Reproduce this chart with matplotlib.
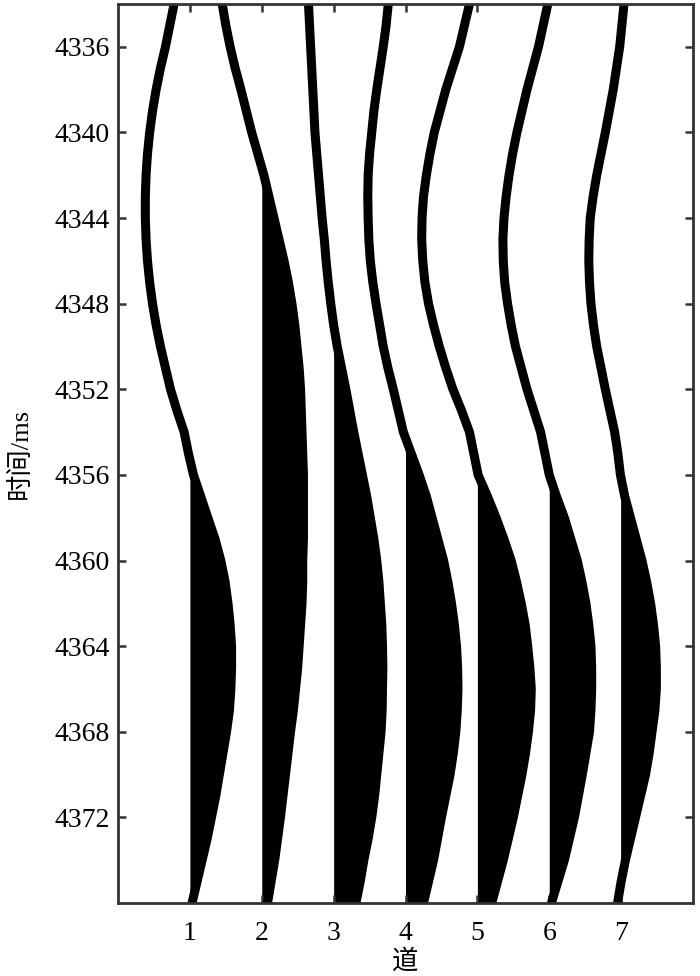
import numpy as np
import matplotlib.pyplot as plt

# 时间采样 (ms)
t = list(range(4334, 4377))

# 各道振幅 (相对道间距), 1 ms 一个样点
tr1 = [-0.22, -0.28, -0.34, -0.41, -0.47, -0.52, -0.56, -0.59, -0.61, -0.62, -0.62,
       -0.61, -0.59, -0.56, -0.52, -0.47, -0.41, -0.34, -0.27, -0.18, -0.08,
       -0.02, 0.05, 0.15, 0.25, 0.35, 0.43, 0.49, 0.53, 0.56, 0.58,
       0.58, 0.57, 0.55, 0.51, 0.46, 0.41, 0.36, 0.30, 0.24, 0.17, 0.10, 0.03]
tr2 = [-0.55, -0.50, -0.44, -0.37, -0.29, -0.215, -0.14, -0.055, 0.03, 0.10, 0.17,
       0.24, 0.31, 0.37, 0.42, 0.46, 0.49, 0.52, 0.54, 0.55, 0.56,
       0.57, 0.58, 0.58, 0.58, 0.58, 0.57, 0.57, 0.56, 0.54, 0.52,
       0.50, 0.47, 0.44, 0.40, 0.365, 0.33, 0.295, 0.26, 0.22, 0.18, 0.13, 0.08]
tr3 = [-0.35, -0.335, -0.32, -0.305, -0.29, -0.275, -0.26, -0.235, -0.21, -0.185, -0.16,
       -0.13, -0.105, -0.075, -0.04, 0.0, 0.05, 0.11, 0.17, 0.225, 0.28,
       0.34, 0.40, 0.46, 0.51, 0.56, 0.60, 0.63, 0.65, 0.67, 0.68,
       0.685, 0.68, 0.675, 0.66, 0.63, 0.60, 0.57, 0.53, 0.48, 0.42, 0.37, 0.31]
tr4 = [-0.24, -0.27, -0.31, -0.355, -0.40, -0.44, -0.47, -0.50, -0.52, -0.525, -0.52,
       -0.51, -0.49, -0.455, -0.41, -0.36, -0.31, -0.245, -0.17, -0.10, -0.03,
       0.08, 0.19, 0.29, 0.37, 0.45, 0.53, 0.59, 0.64, 0.68, 0.71,
       0.725, 0.73, 0.72, 0.70, 0.665, 0.62, 0.56, 0.50, 0.445, 0.39, 0.32, 0.25]
tr5 = [-0.11, -0.18, -0.25, -0.345, -0.44, -0.52, -0.60, -0.66, -0.71, -0.75, -0.77,
       -0.775, -0.76, -0.73, -0.68, -0.61, -0.53, -0.44, -0.34, -0.22, -0.11,
       -0.05, 0.01, 0.14, 0.26, 0.37, 0.47, 0.545, 0.61, 0.665, 0.70,
       0.73, 0.75, 0.74, 0.71, 0.67, 0.62, 0.56, 0.50, 0.43, 0.36, 0.28, 0.20]
tr6 = [-0.02, -0.085, -0.15, -0.23, -0.31, -0.38, -0.45, -0.51, -0.56, -0.60, -0.63,
       -0.645, -0.64, -0.62, -0.58, -0.53, -0.47, -0.39, -0.31, -0.215, -0.12,
       -0.06, 0.0, 0.10, 0.21, 0.30, 0.39, 0.455, 0.51, 0.55, 0.58,
       0.59, 0.59, 0.58, 0.56, 0.51, 0.46, 0.405, 0.35, 0.28, 0.21, 0.12, 0.03]
tr7 = [0.04, 0.01, -0.02, -0.065, -0.11, -0.165, -0.22, -0.28, -0.34, -0.39, -0.43,
       -0.445, -0.45, -0.44, -0.42, -0.385, -0.34, -0.28, -0.22, -0.155, -0.09,
       -0.045, -0.01, 0.05, 0.13, 0.21, 0.29, 0.355, 0.41, 0.45, 0.48,
       0.49, 0.49, 0.47, 0.43, 0.39, 0.34, 0.27, 0.20, 0.13, 0.06, 0.0, -0.05]

traces = [tr1, tr2, tr3, tr4, tr5, tr6, tr7]
yticks = [4336, 4340, 4344, 4348, 4352, 4356, 4360, 4364, 4368, 4372]

fig = plt.figure(figsize=(7, 9.76), dpi=100)
ax = fig.add_axes([0.1686, 0.0748, 0.8214, 0.9211])

t = np.array(t)
for i, tr in enumerate(traces):
    base = i + 1
    x = base + np.array(tr)
    ax.fill_betweenx(t, base, x, where=x > base, interpolate=True,
                     color='black', linewidth=0)
    ax.plot(x, t, color='black', lw=6.5, solid_capstyle='butt')

ax.set_xlim(0, 8)
ax.set_ylim(4376, 4334)
ax.set_xticks(range(1, 8))
ax.set_yticks(yticks)

serif = ['Liberation Serif', 'Noto Sans CJK SC']
ax.tick_params(direction='in', length=6, width=1.8, color='#333333',
               top=True, right=True, labelsize=20)
ax.tick_params(axis='x', pad=13)
ax.tick_params(axis='y', pad=6)
for lab in ax.get_xticklabels() + ax.get_yticklabels():
    lab.set_family(serif)
for s in ax.spines.values():
    s.set_linewidth(2)
    s.set_color('#333333')

ax.set_xlabel('道', family=serif, fontsize=19, labelpad=2)
ax.set_ylabel('时间/ms', family=serif, fontsize=19, labelpad=16)

fig.savefig('out.png', dpi=100)
